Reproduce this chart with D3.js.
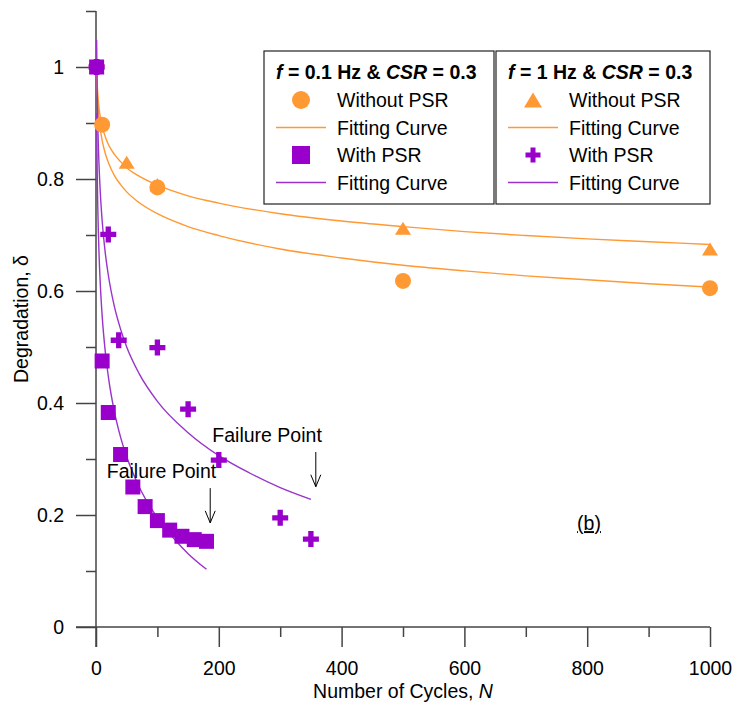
<!DOCTYPE html>
<html><head><meta charset="utf-8">
<script src="https://cdn.jsdelivr.net/npm/d3@7/dist/d3.min.js"></script>
<style>
body{margin:0;background:#fff}
text{font-family:"Liberation Sans",Arial,sans-serif;fill:#000}
</style>
</head><body>
<svg id="chart" width="737" height="706"></svg>
<script>
// ---------- data ----------
const circleN   = [1, 10, 100, 500, 1000];
const circleD   = [1.0, 0.897, 0.785, 0.618, 0.605];
const triangleN = [1, 50, 100, 500, 1000];
const triangleD = [1.0, 0.83, 0.79, 0.712, 0.675];
const squareN   = [1, 10, 20, 40, 60, 80, 100, 120, 140, 160, 180];
const squareD   = [1.0, 0.475, 0.383, 0.308, 0.25, 0.215, 0.19, 0.173, 0.162, 0.156, 0.153];
const crossN    = [1, 20, 37, 100, 150, 200, 300, 350];
const crossD    = [1.0, 0.701, 0.512, 0.499, 0.389, 0.298, 0.195, 0.157];

// fitting curves
const fitCircleN   = [1, 2, 3, 5, 7, 10, 15, 20, 30, 40, 50, 70, 100, 150, 200, 300, 400, 500, 600, 700, 800, 900, 1000];
const fitCircleD   = [1.0, 0.961, 0.937, 0.908, 0.889, 0.869, 0.846, 0.830, 0.806, 0.790, 0.777, 0.758, 0.738, 0.715, 0.699, 0.675, 0.659, 0.646, 0.636, 0.627, 0.620, 0.613, 0.607];
const fitTriangleN = [1, 2, 3, 5, 7, 10, 15, 20, 30, 40, 50, 70, 100, 150, 200, 300, 400, 500, 600, 700, 800, 900, 1000];
const fitTriangleD = [1.0, 0.968, 0.950, 0.926, 0.911, 0.894, 0.876, 0.862, 0.844, 0.831, 0.820, 0.805, 0.789, 0.770, 0.757, 0.738, 0.725, 0.715, 0.706, 0.699, 0.693, 0.688, 0.683];
const fitSquareN   = [1, 2, 3, 5, 7, 10, 15, 20, 30, 40, 50, 70, 100, 130, 150, 180];
const fitSquareD   = [0.918, 0.809, 0.745, 0.665, 0.612, 0.556, 0.493, 0.448, 0.384, 0.339, 0.304, 0.251, 0.195, 0.154, 0.131, 0.103];
const fitCrossN    = [1, 2, 3, 5, 7, 10, 15, 20, 30, 40, 50, 70, 100, 150, 200, 250, 300, 350];
const fitCrossD    = [1.048, 0.951, 0.894, 0.823, 0.776, 0.726, 0.669, 0.629, 0.572, 0.532, 0.500, 0.453, 0.403, 0.347, 0.306, 0.275, 0.249, 0.228];

const xTicks  = [0, 200, 400, 600, 800, 1000];
const xMinor  = [100, 300, 500, 700, 900];
const yTicks  = [0, 0.2, 0.4, 0.6, 0.8, 1];
const yMinor  = [0.1, 0.3, 0.5, 0.7, 0.9, 1.1];

const failureN     = [186, 358];
const failureTopD  = [0.248, 0.3125];
const failureTipD  = [0.186, 0.2505];
const failureLabel = ["Failure Point", "Failure Point"];

const legendTitles = [["f", " = 0.1 Hz & ", "CSR", " = 0.3"], ["f", " = 1 Hz & ", "CSR", " = 0.3"]];
const legendLabels = [["Without PSR", "Fitting Curve", "With PSR", "Fitting Curve"],
                      ["Without PSR", "Fitting Curve", "With PSR", "Fitting Curve"]];

// ---------- setup ----------
const ORANGE = "#FF9933", PURPLE = "#9900CC", PURPLE_LINE = "#9933CC", AXIS = "#444";
const FONT = 19.5;
const svg = d3.select("#chart");
const x = d3.scaleLinear().domain([0, 1000]).range([96, 710]);
const y = d3.scaleLinear().domain([0, 1.1]).range([627, 11]);

// ---------- axes ----------
const gx = svg.append("g").attr("transform", `translate(0,${y(0)})`);
gx.call(d3.axisBottom(x).tickValues(xTicks).tickSize(20).tickSizeOuter(0).tickPadding(14).tickFormat(d3.format("d")));
gx.append("g").call(d3.axisBottom(x).tickValues(xMinor).tickSize(10).tickSizeOuter(0).tickFormat(""));
const gy = svg.append("g").attr("transform", `translate(${x(0)},0)`);
gy.call(d3.axisLeft(y).tickValues(yTicks).tickSize(20).tickSizeOuter(0).tickPadding(12).tickFormat(d => d === 0 || d === 1 ? d3.format("d")(d) : d3.format(".1f")(d)));
gy.append("g").call(d3.axisLeft(y).tickValues(yMinor).tickSize(10).tickSizeOuter(0).tickFormat(""));
svg.selectAll(".domain").remove();
svg.selectAll(".tick line").attr("stroke", AXIS).attr("stroke-width", 1.5);
svg.selectAll(".tick text").attr("font-size", FONT).attr("font-family", '"Liberation Sans",Arial,sans-serif').attr("fill", "#000");
// axis lines (extend past origin like the reference)
svg.append("line").attr("x1", x(0) - 20).attr("x2", x(1000)).attr("y1", y(0)).attr("y2", y(0)).attr("stroke", AXIS).attr("stroke-width", 1.5);
svg.append("line").attr("x1", x(0)).attr("x2", x(0)).attr("y1", y(1.1)).attr("y2", y(0) + 20).attr("stroke", AXIS).attr("stroke-width", 1.5);

// axis titles
const xt = svg.append("text").attr("x", (x(0) + x(1000)) / 2).attr("y", 698).attr("text-anchor", "middle").attr("font-size", FONT);
xt.append("tspan").text("Number of Cycles, ");
xt.append("tspan").attr("font-style", "italic").text("N");
svg.append("text").attr("transform", `translate(28,${(y(0) + y(1.1)) / 2}) rotate(-90)`)
  .attr("text-anchor", "middle").attr("font-size", FONT).text("Degradation, δ");

// ---------- fitting curves ----------
const line = d3.line().x(d => x(d[0])).y(d => y(d[1])).curve(d3.curveMonotoneX);
const zip = (a, b) => a.map((v, i) => [v, b[i]]);
const curves = [
  [fitTriangleN, fitTriangleD, ORANGE],
  [fitCircleN, fitCircleD, ORANGE],
  [fitCrossN, fitCrossD, PURPLE_LINE],
  [fitSquareN, fitSquareD, PURPLE_LINE]
];
curves.forEach(([n, d, c]) => {
  svg.append("path").attr("d", line(zip(n, d))).attr("fill", "none").attr("stroke", c).attr("stroke-width", 1.4);
});

// ---------- markers ----------
const triPath = (w, h) => `M0,${-h / 2}L${w / 2},${h / 2}L${-w / 2},${h / 2}Z`;
const shapes = {
  circle: s => d3.symbol(d3.symbolCircle, Math.PI * s * s / 4)(),
  triangle: s => triPath(s, s * 0.82),
  square: s => `M${-s / 2},${-s / 2}h${s}v${s}h${-s}Z`,
  cross: s => d3.symbol(d3.symbolCross, 5 * (s / 3) * (s / 3))()
};
function drawMarkers(n, d, type, size, color) {
  svg.append("g").selectAll("path").data(zip(n, d)).join("path")
    .attr("transform", p => `translate(${x(p[0])},${y(p[1])})`)
    .attr("d", shapes[type](size)).attr("fill", color);
}
drawMarkers(triangleN, triangleD, "triangle", 16, ORANGE);
drawMarkers(circleN, circleD, "circle", 16, ORANGE);
drawMarkers(crossN, crossD, "cross", 16, PURPLE);
drawMarkers(squareN, squareD, "square", 15, PURPLE);

// ---------- failure annotations ----------
failureN.forEach((n, i) => {
  const ax = x(n), top = y(failureTopD[i]), tip = y(failureTipD[i]);
  svg.append("line").attr("x1", ax).attr("x2", ax).attr("y1", top).attr("y2", tip).attr("stroke", "#000").attr("stroke-width", 1);
  svg.append("path").attr("d", `M${ax - 5},${tip - 12}L${ax},${tip}L${ax + 5},${tip - 12}`).attr("fill", "none").attr("stroke", "#000").attr("stroke-width", 1);
  svg.append("text").attr("x", ax + 6).attr("y", top - 10).attr("text-anchor", "end").attr("font-size", FONT).text(failureLabel[i]);
});

// (b) label
svg.append("text").attr("x", x(803)).attr("y", y(0.173)).attr("text-anchor", "middle")
  .attr("font-size", FONT).attr("text-decoration", "underline").text("(b)");

// ---------- legend ----------
const boxes = [{x0: 264, x1: 494, types: ["circle", "line", "square", "line"]},
               {x0: 496, x1: 710, types: ["triangle", "line", "cross", "line"]}];
const rowColors = [ORANGE, ORANGE, PURPLE, PURPLE_LINE];
boxes.forEach((b, bi) => {
  const g = svg.append("g");
  g.append("rect").attr("x", b.x0).attr("y", 51).attr("width", b.x1 - b.x0).attr("height", 153)
    .attr("fill", "#fff").attr("stroke", "#222").attr("stroke-width", 1.2);
  const t = g.append("text").attr("x", b.x0 + 12).attr("y", 79).attr("font-size", FONT).attr("font-weight", "bold");
  legendTitles[bi].forEach((s, k) => {
    const ts = t.append("tspan").text(s);
    if (k % 2 === 0) ts.attr("font-style", "italic");
  });
  const symX = b.x0 + (bi === 0 ? 37 : 37);
  legendLabels[bi].forEach((lab, r) => {
    const cy = 100 + r * 27.5;
    const type = b.types[r];
    if (type === "line") {
      g.append("line").attr("x1", symX - 25).attr("x2", symX + 25).attr("y1", cy).attr("y2", cy)
        .attr("stroke", r === 1 ? ORANGE : PURPLE_LINE).attr("stroke-width", 1.4);
    } else {
      const sz = type === "circle" ? 18 : type === "square" ? 18 : type === "triangle" ? 18 : 15;
      g.append("path").attr("transform", `translate(${symX},${cy})`).attr("d", shapes[type](sz)).attr("fill", rowColors[r]);
    }
    g.append("text").attr("x", b.x0 + 73).attr("y", cy + 7).attr("font-size", FONT).text(lab);
  });
});
</script>
</body></html>
